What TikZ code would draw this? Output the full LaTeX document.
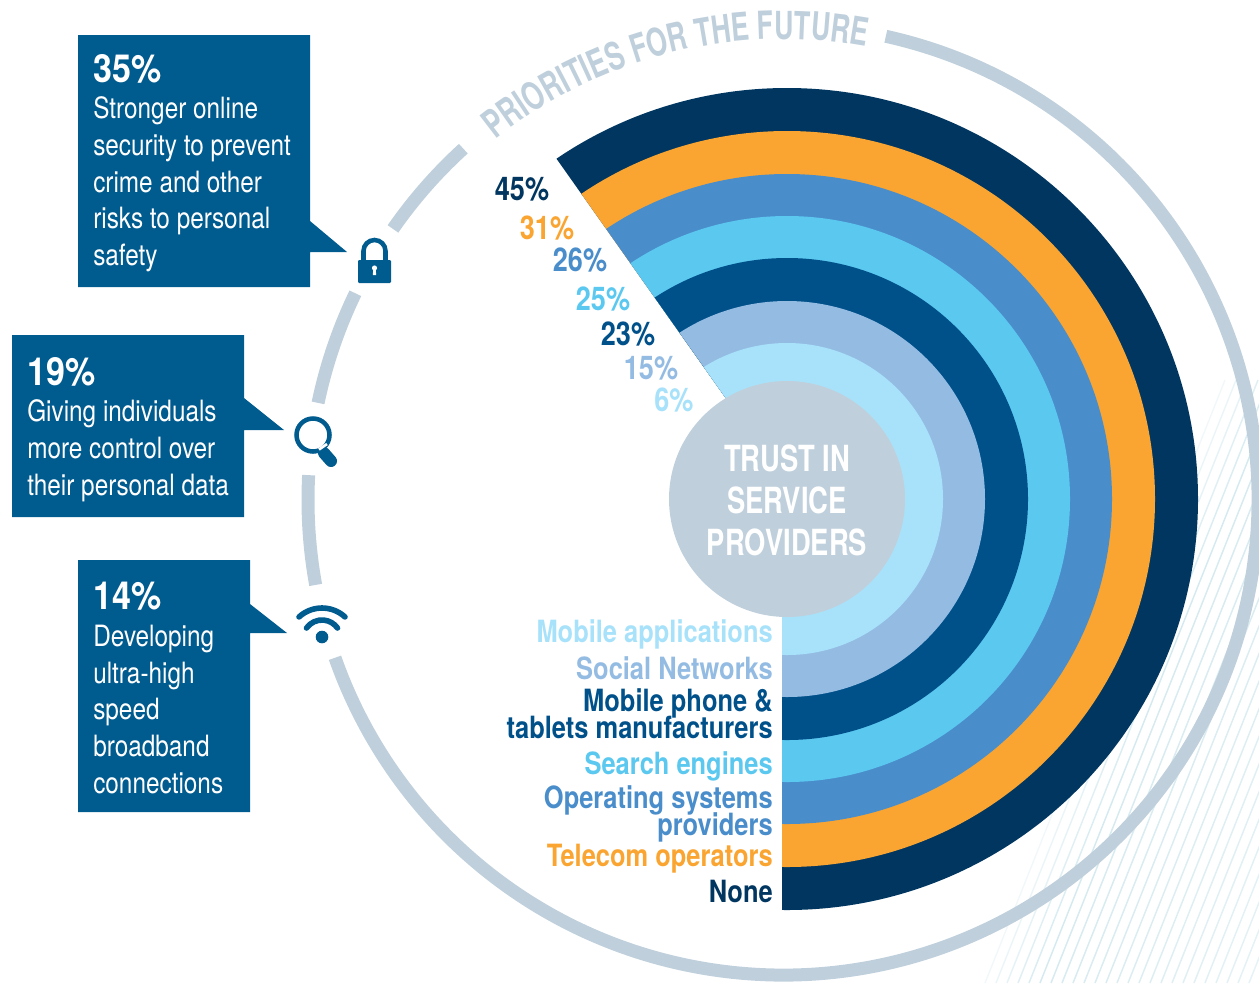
\documentclass[tikz,border=0pt]{standalone}
\usepackage{fontspec}
\setmainfont{TeX Gyre Heros}[FakeStretch=0.83]
\newfontfamily\arcfont{TeX Gyre Heros}[FakeStretch=0.695]
\newfontfamily\headfont{TeX Gyre Heros}[FakeStretch=0.88]
\newfontfamily\centrefont{TeX Gyre Heros}[FakeStretch=0.76]
\usetikzlibrary{decorations.text}
\definecolor{boxblue}{HTML}{005B8F}
\definecolor{navy}{HTML}{003660}
\definecolor{orangeR}{HTML}{FAA531}
\definecolor{midblue}{HTML}{4A8DCB}
\definecolor{skyblue}{HTML}{5BC8F0}
\definecolor{deepblue}{HTML}{00508A}
\definecolor{softblue}{HTML}{94BCE3}
\definecolor{paleblue}{HTML}{A8E2FA}
\definecolor{greyring}{HTML}{BFD0DC}
\definecolor{hatch}{HTML}{C5E2EA}
\tikzset{
  callout/.style={fill=boxblue},
  calltext/.style={anchor=north west,inner sep=0pt,align=left,text=white,font=\fontsize{22}{27.5}\selectfont},
  pct/.style={inner sep=0pt,font=\fontsize{24.5}{26}\selectfont\bfseries},
  lab/.style={anchor=base east,inner sep=0pt,font=\fontsize{23}{24}\selectfont\bfseries},
  seg/.style={draw=greyring,line width=9.75pt},
  icon/.style={boxblue},
}
\newcommand{\hd}[1]{{\headfont\fontsize{29}{27.5}\selectfont\bfseries #1}}
\begin{document}
\begin{tikzpicture}[x=0.75pt,y=-0.75pt]
\useasboundingbox (0,0) rectangle (1259,983);
% faint hatching
\begin{scope}
\clip (0,0) rectangle (1259,983);
\foreach \i in {0,...,34}{
  \pgfmathsetmacro{\op}{min(1,(\i+2)/7)*0.8*(1-\i/55)}
  \draw[hatch,line width=1.1pt,opacity=\op] ({985+\i*11},983) -- ({1225+\i*11},380);
}
\end{scope}
% trust rings
\begin{scope}
\clip (500,79) -- (556,158) -- (725,397) -- (782,477.6) -- (782,930) -- (1300,930) -- (1300,60) -- (500,60) -- cycle;
\fill[navy] (787,499) circle [radius=411];
\fill[orangeR] (787,499) circle [radius=368];
\fill[midblue] (787,499) circle [radius=325];
\fill[skyblue] (787,499) circle [radius=283];
\fill[deepblue] (787,499) circle [radius=241];
\fill[softblue] (787,499) circle [radius=198];
\fill[paleblue] (787,499) circle [radius=156];
\end{scope}
\fill[greyring] (787,499) circle [radius=118];
% outer ring
\begin{scope}[shift={(783,500)},y=0.75pt]
\draw[seg] (77.5:475) arc[start angle=77.5,end angle=-160.6,radius=475];
\draw[seg] (190.3:475) arc[start angle=190.3,end angle=177,radius=475];
\draw[seg] (168.2:475) arc[start angle=168.2,end angle=154.2,radius=475];
\draw[seg] (145.2:475) arc[start angle=145.2,end angle=132.3,radius=475];
\path[decorate,decoration={text along path,
  text={|\color{greyring}\arcfont\fontsize{29}{29}\selectfont\bfseries|PRIORITIES FOR THE FUTURE}}]
  (128.6:461) arc[start angle=128.6,end angle=60,radius=461];
\end{scope}
% callouts
\fill[callout] (78,35) -- (310,35) -- (310,221) -- (347,252) -- (310,252) -- (310,287) -- (78,287) -- cycle;
\fill[callout] (12,335) -- (244,335) -- (244,398) -- (284,430) -- (244,430) -- (244,517) -- (12,517) -- cycle;
\fill[callout] (78,560) -- (250,560) -- (250,604) -- (287,633) -- (250,633) -- (250,812) -- (78,812) -- cycle;
\node[calltext] (c1) at (93,54) {\hd{35\%}\\Stronger online\\security to prevent\\crime and other\\risks to personal\\safety};
\node[calltext] (c2) at (27,357) {\hd{19\%}\\Giving individuals\\more control over\\their personal data};
\node[calltext] (c3) at (93,582) {\hd{14\%}\\Developing\\ultra-high\\speed\\broadband\\connections};
% lock icon
\fill[icon,rounded corners=0.8pt] (358,260) rectangle (391,283);
\draw[icon,line width=3.4pt] (363.5,260) -- (363.5,251) arc[start angle=180,end angle=0,radius=11,y radius=-11] -- (385.5,260);
\fill[white] (374.5,268) circle [radius=2.6];
\fill[white] (373.4,268) -- (375.6,268) -- (376.2,275) -- (372.8,275) -- cycle;
% magnifier icon
\draw[icon,line width=3.4pt] (313,435) circle [radius=16.5];
\draw[icon,line width=9pt,line cap=round] (324,453) -- (331,461);
\draw[white,line width=2pt] (319,449.5) -- (327,444);
% wifi icon
\fill[icon] (322,637) circle [radius=6.3];
\begin{scope}[shift={(322,639)},y=0.75pt]
\draw[icon,line width=4.2pt,line cap=round] (144.6:19) arc[start angle=144.6,end angle=35.4,radius=19];
\end{scope}
\begin{scope}[shift={(322,642)},y=0.75pt]
\draw[icon,line width=4.2pt,line cap=round] (132.5:34) arc[start angle=132.5,end angle=47.5,radius=34];
\end{scope}
% percents
\node[pct,text=navy] (p1) at (522,189) {45\%};
\node[pct,text=orangeR] (p2) at (547,228) {31\%};
\node[pct,text=midblue] (p3) at (580,260) {26\%};
\node[pct,text=skyblue] (p4) at (603,299) {25\%};
\node[pct,text=deepblue] (p5) at (628,334) {23\%};
\node[pct,text=softblue] (p6) at (651,368) {15\%};
\node[pct,text=paleblue] (p7) at (674,400) {6\%};
% labels
\node[lab,text=paleblue] (l1) at (773,642) {Mobile applications};
\node[lab,text=softblue] (l2) at (773,679) {Social Networks};
\node[lab,text=deepblue] (l3a) at (773,711) {Mobile phone \&};
\node[lab,text=deepblue] (l3b) at (773,738) {tablets manufacturers};
\node[lab,text=skyblue] (l4) at (773,774) {Search engines};
\node[lab,text=midblue] (l5a) at (773,808) {Operating systems};
\node[lab,text=midblue] (l5b) at (773,835) {providers};
\node[lab,text=orangeR] (l6) at (773,866) {Telecom operators};
\node[lab,text=navy] (l7) at (773,902) {None};
% centre
\node[inner sep=0pt,align=center,text=white,font=\centrefont\fontsize{27}{31.5}\selectfont\bfseries] (centre) at (787,500) {TRUST IN\\SERVICE\\PROVIDERS};
\end{tikzpicture}
\end{document}
